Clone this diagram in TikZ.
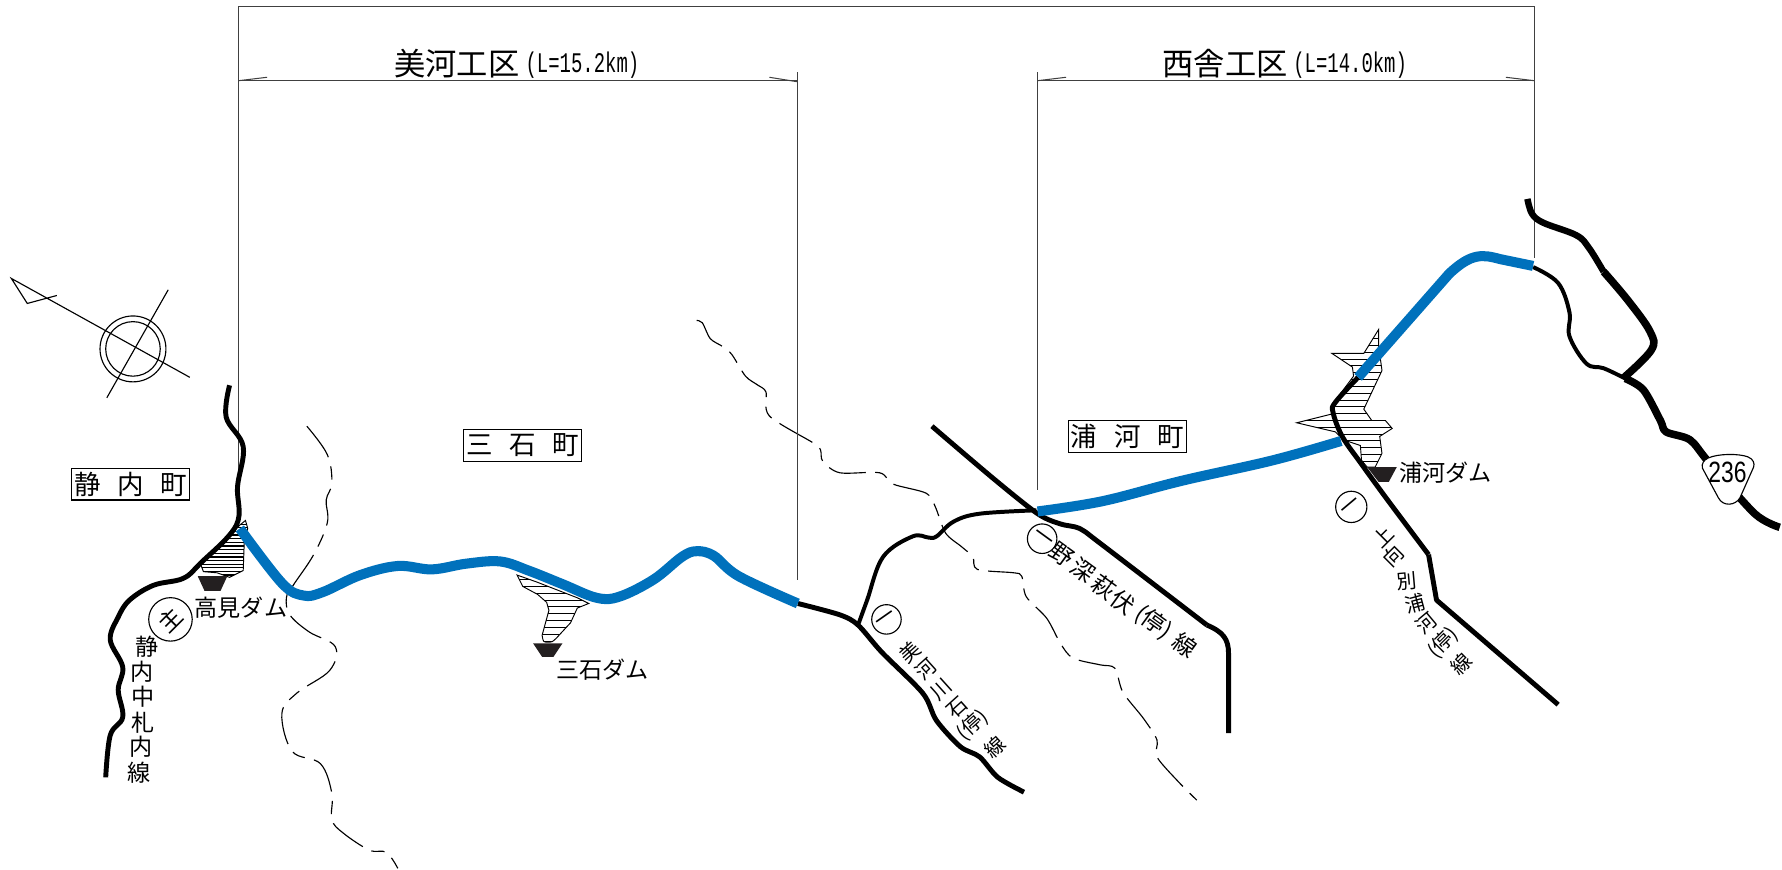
\documentclass[tikz,border=0pt]{standalone}
\usepackage{fontspec}
\setmainfont{Noto Sans CJK JP}
\newfontfamily\latinf{Liberation Sans}
\newfontfamily\monof{Liberation Mono}
\tikzset{
  road/.style={line width=2.6pt,black,line join=round},
  roadthin/.style={line width=2.1pt,black,line join=round},
  roadthick/.style={line width=4pt,black,line join=round},
  newroad/.style={line width=5.3pt,color=expblue,line join=round},
  thin line/.style={line width=0.55pt,color=black!75},
  fine/.style={line width=0.6pt,black},
  river/.style={line width=0.6pt,black,dash pattern=on 20pt off 5pt on 7pt off 5pt},
  res/.style={line width=0.5pt,black},
  dam/.style={fill=damblack,draw=none},
  lab/.style={inner sep=0pt,font=\fontsize{12.2pt}{12.2pt}\selectfont},
  rlab/.style={lab,rotate=#1},
  rlab/.default=45,
  slab/.style={inner sep=0pt,rotate=#1,font=\fontsize{10.6pt}{10.6pt}\selectfont},
  town/.style={draw,line width=0.6pt,minimum width=62.4pt,minimum height=16.8pt,inner sep=0pt,font=\fontsize{14pt}{14pt}\selectfont},
  sect/.style={inner sep=0pt,font=\fontsize{16.5pt}{16.5pt}\selectfont},
  len/.style={inner sep=0pt,font=\monof\fontsize{10pt}{10pt}\selectfont},
  ring/.style={circle,draw,line width=0.6pt,minimum size=#1,inner sep=0pt,font=\fontsize{11pt}{11pt}\selectfont},
  ring/.default=14.8pt,
}
\definecolor{expblue}{HTML}{0071BC}
\definecolor{damblack}{HTML}{231F20}
\begin{document}
\begin{tikzpicture}[x=0.6pt,y=-0.6pt]
\useasboundingbox (0,0) rectangle (1568,765.5);
% rivers
\draw[river] plot[smooth,tension=0.6] coordinates {(270,375)(288,400)(292,425)(287,440)(288,460)(276,488)(258,515)(252,526)(255,541)(272,556)(295,569)(290,590)(261,610)(248,628)(257,661)(282,672)(292,698)(292,721)(302,733)(325,748)(340,750)(350,764)};
\draw[river] plot[smooth,tension=0.5] coordinates {(613,282)(618,284)(625,298)(636,305)(644,312)(656,331)(667,339)(674,345)(677,366)(716,390)(722,396)(724,406)(739,416)(774,416)(786,426)(815,434)(823,446)(832,469)(846,481)(856,490)(860,501)(892,504)(899,507)(903,525)(921,544)(933,566)(944,579)(968,585)(981,588)(988,609)(1006,632)(1018,651)(1018,666)(1037,688)(1053,704)};
% reservoirs
\def\resA{(207,466)--(176,495)--(179,503)--(191,504)--(202,508)--(214,502)--(215,475)--(218,465)--(216,458)--(211,462)--cycle}
\def\resB{(455,506) .. controls (458,512) .. (460,516)--(473,523)--(481,530)--(483,537)--(477,559) .. controls (478,565) .. (482,565) .. controls (486,565) .. (490,561)--(502,548)--(508,535)--(518,531)--(508,526)--(490,519)--(472,512)--cycle}
\def\resC{(1213,290)--(1200,311)--(1172,311)--(1190,323)--(1191,331)--(1173,355)--(1173,364)--(1141,372)--(1175,380)--(1182,387)--(1197,392)--(1198,405)--(1203,411)--(1210,411)--(1216,399)--(1214,384)--(1225,377)--(1219,370)--(1207,370)--(1200,360)--(1216,326)--(1213,304)--cycle}
\begin{scope}\clip \resA; \foreach \y in {458,461.2,...,510}{\draw[res,line width=0.65pt] (170,\y)--(222,\y);}\end{scope}
\draw[res] \resA;
\begin{scope}\clip \resB; \foreach \y in {504,510,...,570}{\draw[res] (450,\y)--(522,\y);}\end{scope}
\draw[res] \resB;
\begin{scope}\clip \resC; \foreach \y in {292,298,...,414}{\draw[res] (1138,\y)--(1228,\y);}\end{scope}
\draw[res] \resC;
% dimension lines
\draw[thin line] (210,460)--(210,6)--(1350,6)--(1350,227);
\draw[thin line] (702,510)--(702,63);
\draw[thin line] (913,431)--(913,63);
\draw[thin line] (210,71)--(702,71);
\draw[thin line] (913,71)--(1350,71);
\draw[thin line] (210,71)--(235,68);
\draw[thin line] (702,72)--(677,68);
\draw[thin line] (913,71)--(938,68);
\draw[thin line] (1350,71)--(1325,68);
% north mark
\draw[fine] (50,260)--(24,267)--(10,245)--(167,332);
\draw[fine] (148,255)--(94,350);
\draw[fine] (117,307) circle (29);
\draw[fine] (117,307) circle (24);
% black roads
\draw[road] plot[smooth,tension=0.6] coordinates {(202,339)(199,367)(214,393)(209,428)(208,462)(176,496)(161,509)(135,515)(114,528)(104,543)(97,563)(108,587)(104,607)(108,631)(97,647)(93,684)};
\draw[road] plot[smooth,tension=0.5] coordinates {(702,531)(739,541)(755,550)(776,574)(812,610)(824,634)(845,657)(862,666)(878,684)(901,697)};
\draw[roadthin] plot[smooth,tension=0.6] coordinates {(755,550)(763,528)(777,490)(803,472)(817,473)(824,472)(839,459)(862,452)(912,449)};
\draw[road] plot[smooth,tension=0.5] coordinates {(820,375)(874,421)(913,452)(933,461)(950,465)(968,478)(1062,550)};
\draw[road] (1062,550) .. controls (1076,556) and (1081,562) .. (1081,575)--(1081,645);
\draw[road] plot[smooth,tension=0.6] coordinates {(1195,332)(1175,354)(1173,363)(1181,384)(1197,407)(1221,440)(1257,488)};
\draw[road] (1257,488)--(1264,528)--(1371,620);
\draw[roadthick,line width=3.4pt] plot[smooth,tension=0.6] coordinates {(1344,175)(1348,188)(1358,196)(1387,207)(1398,218)(1411,239)};
\draw[roadthick] plot[smooth,tension=0.6] coordinates {(1411,239)(1433,265)(1452,292)(1453,308)(1428,333)};
\draw[roadthin] plot[smooth,tension=0.6] coordinates {(1349,235)(1371,249)(1381,275)(1381,296)(1396,320)(1411,324)(1430,333)};
\draw[roadthick] plot[smooth,tension=0.5] coordinates {(1430,333)(1446,343)(1461,370)(1466,380)(1487,387)(1503,406)(1544,452)(1566,464)};
% new road
\draw[newroad] plot[smooth,tension=0.6] coordinates {(211,465)(248,513)(267,524)(284,521)(317,506)(350,498)(380,501)(410,496)(440,494)(465,502)(495,514)(525,526)(545,525)(575,510)(600,490)(613,485)(628,489)(650,507)(702,531)};
\draw[newroad] plot[smooth,tension=0.6] coordinates {(913,450)(970,441)(1040,423)(1120,405)(1180,388)};
\draw[newroad] (1195,332)--(1275,241) .. controls (1295,222) and (1305,224) .. (1320,228)--(1349,234);
% dams
\fill[dam] (174,507)--(200,507)--(194,520)--(180,520)--cycle;
\fill[dam] (469,566)--(495,566)--(487,578)--(477,578)--cycle;
\fill[dam] (1203,411)--(1229,411)--(1222,424)--(1213,424)--cycle;
% shield
\draw[line width=0.6pt,fill=white] (1503,403) .. controls (1512,399) and (1530,399) .. (1538,402) .. controls (1543,404) and (1544,408) .. (1543,411) -- (1531,438) .. controls (1527,445) and (1516,446) .. (1512,438) -- (1498,412) .. controls (1497,408) and (1499,405) .. (1503,403) -- cycle;
\node[inner sep=0pt] (sh) at (1520,416) {\scalebox{0.78}[1]{\latinf\fontsize{15.5pt}{15.5pt}\selectfont 236}};
% section titles
\node[sect] (t1) at (402,56) {美河工区};
\node[len] (t1a) at (512.5,57) {\scalebox{1}[1.5]{(L=15.2km)}};
\node[sect] (t2) at (1078,56) {西舎工区};
\node[len] (t2a) at (1188,57) {\scalebox{1}[1.5]{(L=14.0km)}};
% towns
\node[town] (tA) at (115,426) {静\hspace{0.63em}内\hspace{0.63em}町};
\node[town] (tB) at (460,392) {三\hspace{0.63em}石\hspace{0.63em}町};
\node[town] (tC) at (992,384) {浦\hspace{0.63em}河\hspace{0.63em}町};
% dam names
\node[lab] (d1) at (212,535) {高見ダム};
\node[lab] (d2) at (530,589) {三石ダム};
\node[lab] (d3) at (1272,416) {浦河ダム};
% road numbers
\node[ring=16.8pt,font=\fontsize{12.2pt}{12.2pt}\selectfont] (r1) at (150,545) {\rotatebox{45}{主}};
\node[ring] (r2) at (780,545) {\rotatebox{35}{一}};
\node[ring] (r3) at (917,474) {\rotatebox{-36}{一}};
\node[ring=16.5pt] (r4) at (1189,446) {\rotatebox{40}{一}};
% vertical label
\node[lab] (a1) at (129,569) {静};
\node[lab] (a2) at (125,591) {内};
\node[lab] (a3) at (126,613) {中};
\node[lab] (a4) at (126,636) {札};
\node[lab] (a5) at (124,657) {内};
\node[lab] (a6) at (122,680) {線};
% along road 1
\node[slab=42] (b1) at (801,574) {美};
\node[slab=42] (b2) at (815,589) {河};
\node[slab=42] (b3) at (828,607) {川};
\node[slab=42] (b4) at (842,623) {石};
\node[slab=42] (b5) at (856,638) {(停)};
\node[slab=42] (b6) at (875,657) {線};
% along road 2
\node[rlab=-36] (c1) at (934,488) {野};
\node[rlab=-36] (c2) at (953,502) {深};
\node[rlab=-36] (c3) at (971,517) {萩};
\node[rlab=-36] (c4) at (988,530) {伏};
\node[rlab=-36] (c5) at (1015,548) {(停)};
\node[rlab=-36] (c6) at (1043,568) {線};
% along road 3
\node[slab=45] (e1) at (1217,472) {上};
\node[slab=45] (e2) at (1226,489) {向};
\node[slab=5] (e3) at (1238,511) {別};
\node[slab=15] (e4) at (1245,531) {浦};
\node[slab=40] (e5) at (1255,548) {河};
\node[slab=45] (e6) at (1270,566) {(停)};
\node[slab=45] (e7) at (1286,584) {線};
\end{tikzpicture}
\end{document}
